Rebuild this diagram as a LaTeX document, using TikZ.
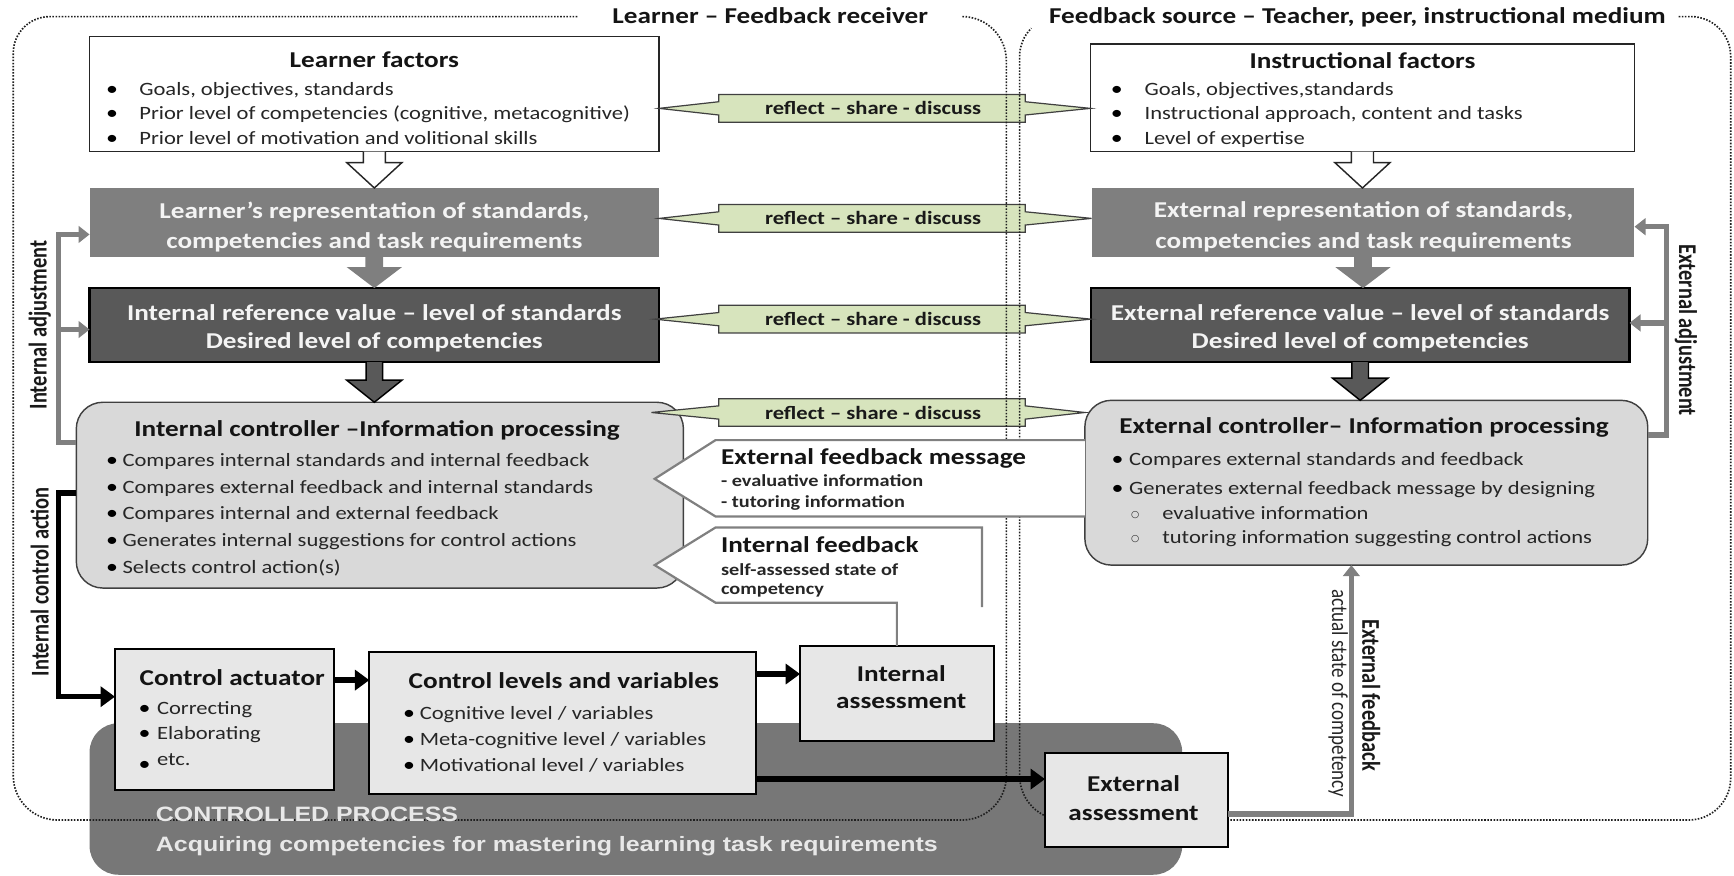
\documentclass[tikz,border=0pt]{standalone}
\usepackage{fontspec}
\setmainfont{Carlito}[FakeStretch=1.2]
\newfontfamily\plainfont{Carlito}
\newfontfamily\arialfont{Liberation Sans}[FakeStretch=1.2]
\newfontfamily\symfont{DejaVu Sans}
\usetikzlibrary{arrows.meta,calc}
\definecolor{cmid}{HTML}{7F7F7F}
\definecolor{cdark}{HTML}{595959}
\definecolor{cctrl}{HTML}{D9D9D9}
\definecolor{clight}{HTML}{E7E7E7}
\definecolor{cproc}{HTML}{777777}
\definecolor{cgreen}{HTML}{D7E4BD}
\definecolor{cgray}{HTML}{808080}
\definecolor{ctext}{HTML}{262626}
\definecolor{cwhite}{HTML}{F4F4F4}
\definecolor{cdot}{HTML}{1E1E1E}
\newcommand{\blockarr}[6]{\path[#1] let \p1=(#2.south), \p2=(#3.north) in (\x1-#4,\y1) -- (\x1-#4,\y2+#6) -- (\x1-#5,\y2+#6) -- (\x1,\y2) -- (\x1+#5,\y2+#6) -- (\x1+#4,\y2+#6) -- (\x1+#4,\y1);}
\newcommand{\rsd}[5]{\path[rflow] let \p1=(#1.east), \p2=(#2.west) in (\x1+#4,#3) -- (650,{#3+6}) -- (650,{#3+12.5}) -- (927,{#3+12.5}) -- (927,{#3+6}) -- (\x2,#3) -- (927,{#3-6}) -- (927,{#3-12.5}) -- (650,{#3-12.5}) -- (650,{#3-6}) -- cycle;
\node[rtxt] (#5) at (789.5,#3) {reflect – share - discuss};}
\tikzset{
  every node/.style={inner sep=0pt, outer sep=0pt},
  boxw/.style={draw=black!85, line width=1.4pt, fill=white},
  boxm/.style={fill=cmid},
  boxd/.style={fill=cdark, draw=black, line width=2pt},
  boxc/.style={fill=cctrl, draw=black!75, line width=1.3pt, rounded corners=24pt},
  boxl/.style={fill=clight, draw=black, line width=1.8pt},
  boxp/.style={fill=cproc, rounded corners=26pt},
  ttl/.style={font=\fontsize{20.5}{24}\selectfont\bfseries, text=black!92, anchor=base},
  ttlw/.style={ttl, anchor=base west},
  wtxt/.style={font=\fontsize{20.5}{24}\selectfont\bfseries, text=cwhite, anchor=base},
  btxt/.style={font=\fontsize{17}{20}\selectfont, text=ctext, anchor=base west},
  bdot/.style={font=\fontsize{18}{20}\selectfont, text=black, anchor=base},
  sdot/.style={font=\symfont\fontsize{8.5}{9}\selectfont, text=ctext},
  rtxt/.style={font=\fontsize{17}{20}\selectfont\bfseries, text=black!90},
  psub/.style={font=\fontsize{15.3}{18}\selectfont\bfseries, text=black!85, anchor=base west},
  rot/.style={font=\plainfont\bfseries\fontsize{18.5}{20}\selectfont, text=black!90},
  rotn/.style={font=\plainfont\fontsize{17.2}{20}\selectfont, text=ctext},
  cptxt/.style={font=\arialfont\bfseries\fontsize{18.8}{22}\selectfont, text=cwhite!95!black, anchor=base west},
  rflow/.style={fill=cgreen, draw=black!75, line width=1.1pt, line join=miter},
  gline/.style={draw=cgray, line width=5pt, line join=miter, -{Triangle[length=10pt,width=15pt]}},
  bline/.style={draw=black, line width=5pt, line join=miter, -{Triangle[length=13pt,width=18pt]}},
  fbline/.style={draw=cgray, line width=2pt, line join=miter},
  dotline/.style={draw=cdot, line width=1.5pt, dash pattern=on 1.4pt off 1.4pt},
}
\begin{document}
\begin{tikzpicture}[x=1pt,y=1pt]
\useasboundingbox (0,0) rectangle (1568,-792);
% controlled process
\node[boxp, minimum width=988pt, minimum height=137pt] (cp) at (575,-722.5) {};
% boxes
\node[boxw, minimum width=515pt, minimum height=104pt] (lf) at (338.5,-85) {};
\node[boxw, minimum width=492pt, minimum height=97pt] (inf) at (1232,-88.5) {};
\node[boxm, minimum width=515pt, minimum height=62pt] (lr) at (338.5,-201) {};
\node[boxm, minimum width=491pt, minimum height=62pt] (er) at (1232.5,-201) {};
\node[boxd, minimum width=515pt, minimum height=67pt] (li) at (338.5,-294) {};
\node[boxd, minimum width=487pt, minimum height=67pt] (ei) at (1230,-294) {};
\node[boxc, minimum width=549pt, minimum height=168pt] (ic) at (343.5,-447.75) {};
\node[boxc, minimum width=509pt, minimum height=149pt] (ec) at (1235.5,-436.5) {};
\node[boxl, minimum width=198pt, minimum height=127pt] (ca) at (203,-650.5) {};
\node[boxl, minimum width=350pt, minimum height=128pt] (cl) at (509,-654) {};
\node[boxl, minimum width=175pt, minimum height=86pt] (ia) at (811,-627) {};
% block arrows
\blockarr{draw=black!85,line width=1.3pt,fill=white}{lf}{lr}{10pt}{25pt}{23pt}
\blockarr{draw=black!85,line width=1.3pt,fill=white}{inf}{er}{10pt}{25pt}{23pt}
\blockarr{fill=cmid}{lr}{li}{8pt}{25pt}{19pt}
\blockarr{fill=cmid}{er}{ei}{8pt}{25pt}{19pt}
\blockarr{fill=cdark,draw=black,line width=1.3pt}{li}{ic}{7.5pt}{25pt}{20pt}
\blockarr{fill=cdark,draw=black,line width=1.3pt}{ei}{ec}{7.5pt}{25pt}{20pt}
% reflect arrows
\rsd{lf}{inf}{-98}{0pt}{r1}
\rsd{lr}{er}{-197.5}{0pt}{r2}
\rsd{li}{ei}{-288.6}{-4pt}{r3}
\rsd{ic}{ec}{-373}{-29pt}{r4}
% dotted regions
\draw[dotline] (522,-15) -- (45,-15) arc[start angle=90,end angle=180,radius=33] -- (12,-701.5) arc[start angle=180,end angle=270,radius=40] -- (870,-741.5) arc[start angle=270,end angle=360,radius=40] -- (910,-55) arc[start angle=0,end angle=90,radius=40] -- (870,-15);
\draw[dotline] (1518,-15) -- (1529,-15) arc[start angle=90,end angle=0,radius=36] -- (1565,-703.5) arc[start angle=0,end angle=-90,radius=38] -- (962,-741.5) arc[start angle=270,end angle=180,radius=40] -- (922,-51) arc[start angle=180,end angle=135,radius=36];
\node[ttl] (tl) at (696.5,-21) {Learner – Feedback receiver};
\node[ttl] (tr) at (1227.5,-21) {Feedback source – Teacher, peer, instructional medium};
% external assessment box
\node[boxl, minimum width=165pt, minimum height=85pt] (ea) at (1027.5,-723.5) {};
% connectors
\draw[gline] (ic.west |- 0,-400) -- (53,-400) -- (53,-212) -- (lr.west |- 0,-212);
\draw[gline] (53,-298) -- (li.west |- 0,-298);
\draw[bline] (ic.west |- 0,-446) -- (53,-446) -- (53,-630) -- (ca.west |- 0,-630);
\draw[gline] (ec.east |- 0,-393.5) -- (1507,-393.5) -- (1507,-205) -- (er.east |- 0,-205);
\draw[gline] (1507,-292) -- (ei.east |- 0,-292);
\draw[bline] (ca.east |- 0,-615) -- (cl.west |- 0,-615);
\draw[bline] (cl.east |- 0,-609.5) -- (ia.west |- 0,-609.5);
\draw[bline] (cl.east |- 0,-704.5) -- (ea.west |- 0,-704.5);
% feedback pentagons
\fill[white] (ec.west |- 0,-398) -- (647,-398) -- (592,-433) -- (647,-467) -- (ec.west |- 0,-467) -- cycle;
\draw[fbline] (ec.west |- 0,-398) -- (647,-398) -- (592,-433) -- (647,-467) -- (ec.west |- 0,-467);
\fill[white] (592,-511) -- (647,-477) -- (888,-477) -- (888,-545) -- (647,-545) -- cycle;
\draw[fbline] (888,-549) -- (888,-477) -- (647,-477) -- (592,-511) -- (647,-545) -- (ia.north |- 0,-545) -- (ia.north);
\draw[gline] (ea.east |- 0,-736) -- (1222,-736) -- (ec.south -| 1222,0);
% texts: learner factors
\node[ttl] (lft) at (338.5,-61) {Learner factors};
\node[bdot] (lfb1) at (101.4,-86.5) {•};
\node[btxt] (lf1) at (126,-86.5) {Goals, objectives, standards};
\node[bdot] (lfb2) at (101.4,-108.5) {•};
\node[btxt] (lf2) at (126,-108.5) {Prior level of competencies (cognitive, metacognitive)};
\node[bdot] (lfb3) at (101.4,-130.5) {•};
\node[btxt] (lf3) at (126,-130.5) {Prior level of motivation and volitional skills};
% instructional factors
\node[ttl] (ift) at (1232,-62) {Instructional factors};
\node[bdot] (ifb1) at (1010,-86.5) {•};
\node[btxt] (if1) at (1035,-86.5) {Goals, objectives,standards};
\node[bdot] (ifb2) at (1010,-108.5) {•};
\node[btxt] (if2) at (1035,-108.5) {Instructional approach, content and tasks};
\node[bdot] (ifb3) at (1010,-130.5) {•};
\node[btxt] (if3) at (1035,-130.5) {Level of expertise};
% representation
\node[wtxt] (lrt1) at (338.5,-197.5) {Learner’s representation of standards,};
\node[wtxt] (lrt2) at (338.5,-224.5) {competencies and task requirements};
\node[wtxt] (ert1) at (1233,-196.5) {External representation of standards,};
\node[wtxt] (ert2) at (1233,-224.5) {competencies and task requirements};
% reference values
\node[wtxt] (lit1) at (338.5,-289.4) {Internal reference value – level of standards};
\node[wtxt] (lit2) at (338.5,-314.7) {Desired level of competencies};
\node[wtxt] (eit1) at (1230,-289.4) {External reference value – level of standards};
\node[wtxt] (eit2) at (1230,-314.7) {Desired level of competencies};
% internal controller
\node[ttl] (ict) at (341,-395) {Internal controller –Information processing};
\foreach \yy/\tt [count=\k] in {422/Compares internal standards and internal feedback,446/Compares external feedback and internal standards,470/Compares internal and external feedback,494.5/Generates internal suggestions for control actions,518.5/Selects control action(s)}{
  \node[bdot] (icb\k) at (101.4,-\yy) {•};
  \node[btxt] (ic\k) at (110.8,-\yy) {\tt};
}
% external controller
\node[ttl] (ect) at (1233.5,-392) {External controller– Information processing};
\node[bdot] (ecb1) at (1010.5,-420.5) {•};
\node[btxt] (ec1) at (1021,-420.5) {Compares external standards and feedback};
\node[bdot] (ecb2) at (1010.5,-447.5) {•};
\node[btxt] (ec2) at (1021,-447.5) {Generates external feedback message by designing};
\node[sdot] (ecs1) at (1026.5,-465.5) {○};
\node[btxt] (ec3) at (1051,-470) {evaluative information};
\node[sdot] (ecs2) at (1026.5,-487.5) {○};
\node[btxt] (ec4) at (1051,-491.5) {tutoring information suggesting control actions};
% feedback messages
\node[ttlw] (efm) at (652,-419.6) {External feedback message};
\node[psub] (efm1) at (652,-440) {- evaluative information};
\node[psub] (efm2) at (652,-459) {- tutoring information};
\node[ttlw] (ifb) at (652,-500) {Internal feedback};
\node[psub] (ifb1) at (652,-520) {self-assessed state of};
\node[psub] (ifb2) at (652,-538) {competency};
% control actuator
\node[ttlw] (cat) at (126.3,-619.5) {Control actuator};
\node[bdot] (cab1) at (130.8,-645.7) {•};
\node[btxt] (ca1) at (142,-645.7) {Correcting};
\node[bdot] (cab2) at (130.8,-669) {•};
\node[btxt] (ca2) at (142,-669) {Elaborating};
\node[bdot] (cab3) at (130.8,-697) {•};
\node[btxt] (ca3) at (142,-692) {etc.};
% control levels
\node[ttlw] (clt) at (369.6,-623) {Control levels and variables};
\node[bdot] (clb1) at (370,-650.5) {•};
\node[btxt] (cl1) at (379.6,-650.5) {Cognitive level / variables};
\node[bdot] (clb2) at (370,-674.5) {•};
\node[btxt] (cl2) at (379.6,-674.5) {Meta-cognitive level / variables};
\node[bdot] (clb3) at (370,-698) {•};
\node[btxt] (cl3) at (379.6,-698) {Motivational level / variables};
% assessments
\node[ttl] (iat1) at (815,-616.4) {Internal};
\node[ttl] (iat2) at (815,-640.5) {assessment};
\node[ttl] (eat1) at (1025,-716) {External};
\node[ttl] (eat2) at (1025,-741.5) {assessment};
% controlled process
\node[cptxt] (cpt1) at (141,-743) {CONTROLLED PROCESS};
\node[cptxt] (cpt2) at (141,-770) {Acquiring competencies for mastering learning task requirements};
% rotated labels
\node[rot, rotate=90] (lab1) at (36,-294) {\scalebox{1}[1.25]{Internal adjustment}};
\node[rot, rotate=90] (lab2) at (36,-526) {\scalebox{1}[1.25]{Internal control action}};
\node[rot, rotate=-90] (lab3) at (1524.5,-298.5) {\scalebox{1}[1.25]{External adjustment}};
\node[rot, rotate=-90] (lab4) at (1240,-628.5) {\scalebox{1}[1.25]{External feedback}};
\node[rotn, rotate=-90] (lab5) at (1210,-627) {\scalebox{1}[1.2]{actual state of competency}};
\end{tikzpicture}
\end{document}
